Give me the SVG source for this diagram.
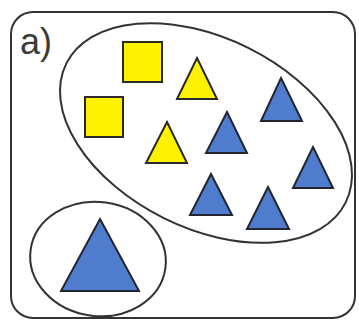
<svg xmlns="http://www.w3.org/2000/svg" width="359" height="323" viewBox="0 0 359 323">
<style>
.frame{fill:none;stroke:#333;stroke-width:2}
.set{fill:none;stroke:#333;stroke-width:2}
.y{fill:#fff200;stroke:#2a2a2a;stroke-width:2;stroke-linejoin:miter}
.b{fill:#4f7ccc;stroke:#22262e;stroke-width:2;stroke-linejoin:miter}
.lbl{font-family:"Liberation Sans",Arial,sans-serif;font-size:36px;fill:#3a3a3a}
</style>
<rect width="359" height="323" fill="#ffffff"/>
<g id="frame">
<rect class="frame" x="11" y="12" width="344" height="306" rx="22" ry="22"/>
<text class="lbl" x="20" y="54">a)</text>
</g>
<g id="set-large">
<ellipse class="set" cx="206" cy="133" rx="156" ry="95" transform="rotate(26.4 206 133)"/>
</g>
<g id="set-small">
<ellipse class="set" cx="98" cy="259" rx="68" ry="57" transform="rotate(8 98 259)"/>
</g>
<g id="square1"><rect class="y" x="123" y="42" width="39" height="40"/></g>
<g id="square2"><rect class="y" x="85" y="97" width="38" height="40"/></g>
<g id="ytri1"><polygon class="y" points="197,58 217,99 177,99"/></g>
<g id="ytri2"><polygon class="y" points="167,122 187,163 146,163"/></g>
<g id="btri1"><polygon class="b" points="281,78 302,121 261,121"/></g>
<g id="btri2"><polygon class="b" points="227,112 247,153 206,153"/></g>
<g id="btri3"><polygon class="b" points="313,147 333,188 293,188"/></g>
<g id="btri4"><polygon class="b" points="211,174 232,215 190,215"/></g>
<g id="btri5"><polygon class="b" points="268,187 289,229 247,229"/></g>
<g id="btri-big"><polygon class="b" points="100,219 139,291 61,291"/></g>
<g id="connectors"></g>
</svg>
